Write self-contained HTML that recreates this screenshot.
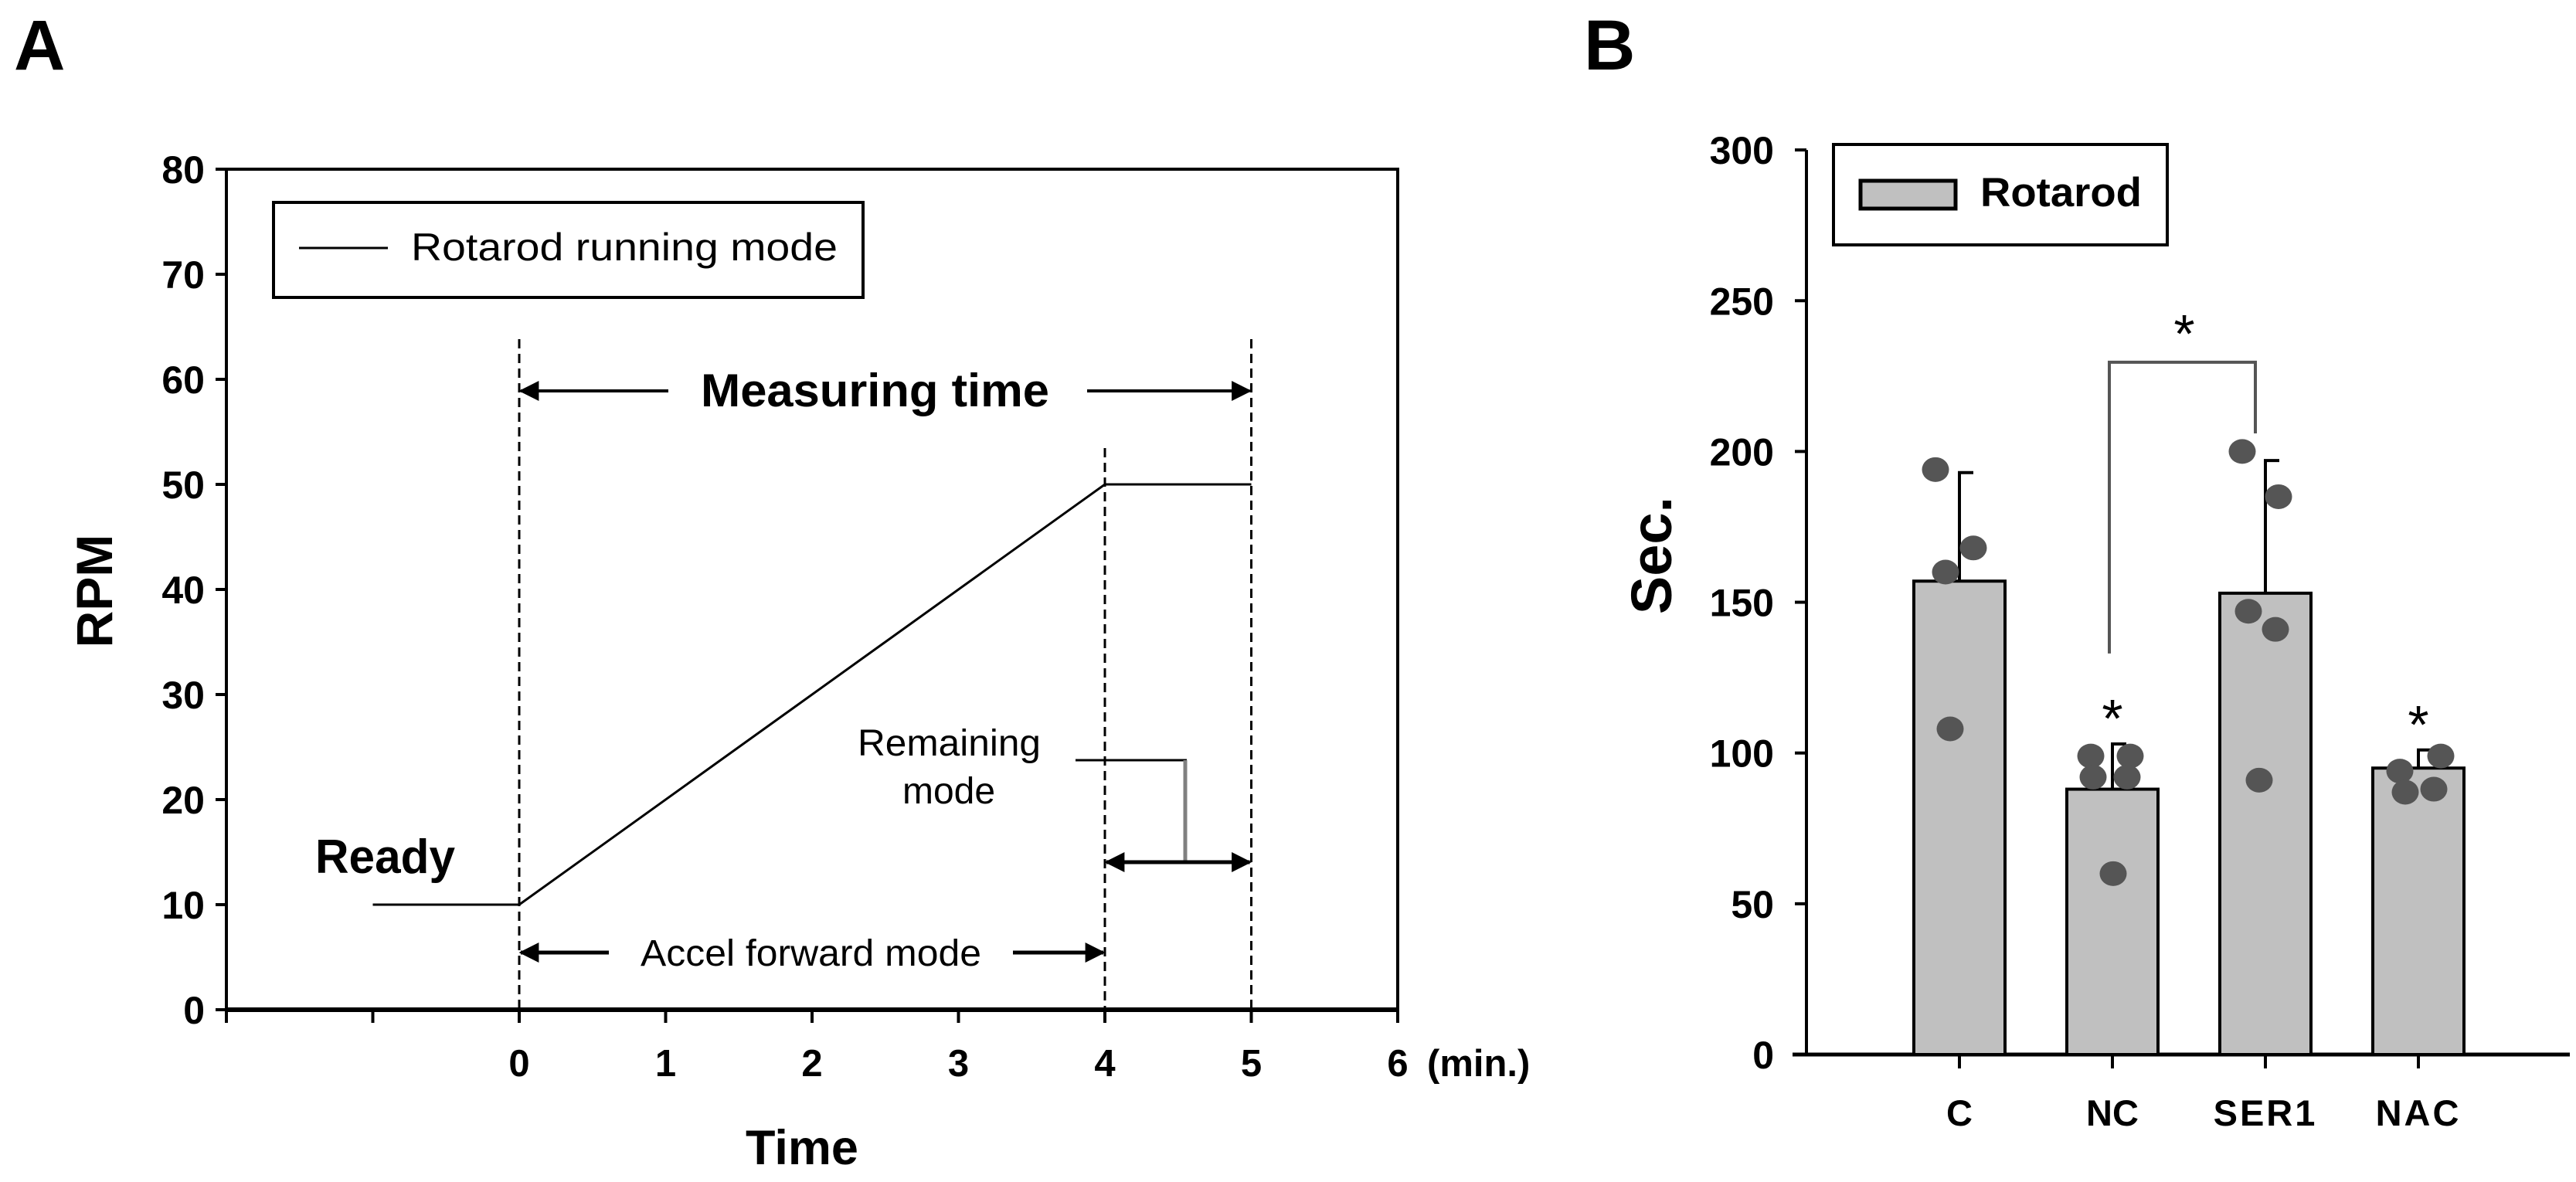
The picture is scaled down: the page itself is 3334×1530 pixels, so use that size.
<!DOCTYPE html>
<html><head><meta charset="utf-8"><style>
html,body{margin:0;padding:0;background:#fff}
svg{display:block;font-family:"Liberation Sans",Arial,sans-serif}
</style></head><body>
<svg id="fig" width="3334" height="1530" viewBox="0 0 3334 1530" xmlns="http://www.w3.org/2000/svg">
<defs>
<marker id="ah2" viewBox="0 0 10 10" refX="9" refY="5" markerWidth="26" markerHeight="26" orient="auto-start-reverse" markerUnits="userSpaceOnUse"><path d="M0,0L10,5L0,10z" fill="#000"/></marker>
</defs>
<text x="18" y="90" font-size="92" font-weight="bold">A</text>
<text x="2050" y="90" font-size="92" font-weight="bold">B</text>
<g id="gA"></g>
<g id="gB"></g>
</svg>
<script>
// Chart A data
const aTimes = [-1, 0, 4, 5];
const aRpm = [10, 10, 50, 50];
const aYTicks = [0,10,20,30,40,50,60,70,80];
const aXTicks = [0,1,2,3,4,5,6];
// Chart B data
const bCats = ["C","NC","SER1","NAC"];
const bMeans = [157, 88, 153, 95];
const bErr = [193, 103, 197, 101];
const bPoints = [[194,168,160,108],[99,92,99,92,60],[200,185,147,141,91],[94,99,87,88]];
const bOffsets = [[-31,18,-18,-12],[-28,-25,23,19,1],[-30,17,-22,13,-8],[-24,29,-17,20]];
const bYTicks = [0,50,100,150,200,250,300];
const bStars = ["", "*", "", "*"];

const NS="http://www.w3.org/2000/svg";
function mk(parent, tag, attrs, txt){const e=document.createElementNS(NS,tag);for(const k in attrs)e.setAttribute(k,attrs[k]);if(txt!==undefined)e.textContent=txt;parent.appendChild(e);return e;}

// ---- Chart A ----
const gA=document.getElementById('gA');
const ax=t=>672+189.5*t, ay=v=>1307-(v/10)*136;
let e;
e=mk(gA,'rect',{x:ax(-2),y:ay(80),width:ax(6)-ax(-2),height:ay(0)-ay(80),fill:'none',stroke:'#000','stroke-width':4});

mk(gA,'line',{x1:ax(-2),x2:ax(6),y1:ay(0),y2:ay(0),stroke:'#000','stroke-width':6});
aYTicks.forEach(v=>{
  mk(gA,'line',{x1:ax(-2)-14,x2:ax(-2),y1:ay(v),y2:ay(v),stroke:'#000','stroke-width':4});
  e=mk(gA,'text',{x:ax(-2)-28,y:ay(v)+18,'font-size':50,'font-weight':'bold','text-anchor':'end'},String(v));
  
});
[-2,-1,0,1,2,3,4,5,6].forEach(t=>mk(gA,'line',{x1:ax(t),x2:ax(t),y1:ay(0),y2:ay(0)+17,stroke:'#000','stroke-width':4}));
aXTicks.forEach(t=>{
  e=mk(gA,'text',{x:ax(t),y:1393,'font-size':49,'font-weight':'bold','text-anchor':'middle'},String(t));
  
});
e=mk(gA,'text',{x:1847,y:1393,'font-size':49,'font-weight':'bold'},'(min.)');

e=mk(gA,'text',{x:1038,y:1507,'font-size':63,'font-weight':'bold','text-anchor':'middle'},'Time');

e=mk(gA,'text',{x:0,y:0,'font-size':66,'font-weight':'bold','text-anchor':'middle',transform:'translate(145,765) rotate(-90)'},'RPM');

// dashed verticals
[[0,439],[4,580],[5,439]].forEach(([t,top])=>{
  e=mk(gA,'line',{x1:ax(t),x2:ax(t),y1:top,y2:ay(0),stroke:'#000','stroke-width':3,'stroke-dasharray':'12,7'});
  
});
// running line
e=mk(gA,'polyline',{points:aTimes.map((t,i)=>ax(t)+','+ay(aRpm[i])).join(' '),fill:'none',stroke:'#000','stroke-width':3});

// legend
e=mk(gA,'rect',{x:354,y:262,width:763,height:123,fill:'#fff',stroke:'#000','stroke-width':4});

mk(gA,'line',{x1:387,x2:502,y1:321,y2:321,stroke:'#000','stroke-width':3});
e=mk(gA,'text',{x:532,y:337,'font-size':50,textLength:552,lengthAdjust:'spacingAndGlyphs'},'Rotarod running mode');

// measuring time
mk(gA,'line',{x1:ax(0)+2,x2:865,y1:506,y2:506,stroke:'#000','stroke-width':4,'marker-start':'url(#ah2)'});
mk(gA,'line',{x1:1407,x2:ax(5)-2,y1:506,y2:506,stroke:'#000','stroke-width':4,'marker-end':'url(#ah2)'});
e=mk(gA,'text',{x:907,y:526,'font-size':60,'font-weight':'bold',textLength:451,lengthAdjust:'spacingAndGlyphs'},'Measuring time');

// Ready
e=mk(gA,'text',{x:408,y:1130,'font-size':62,'font-weight':'bold',textLength:181,lengthAdjust:'spacingAndGlyphs'},'Ready');

// Remaining mode
e=mk(gA,'text',{x:1110,y:978,'font-size':48,textLength:237,lengthAdjust:'spacingAndGlyphs'},'Remaining');

mk(gA,'text',{x:1228,y:1040,'font-size':48,'text-anchor':'middle'},'mode');
mk(gA,'line',{x1:1392,x2:1536,y1:984,y2:984,stroke:'#000','stroke-width':3});
mk(gA,'line',{x1:1534,x2:1534,y1:984,y2:1116,stroke:'#808080','stroke-width':5});
mk(gA,'line',{x1:ax(4)+2,x2:ax(5)-2,y1:1116,y2:1116,stroke:'#000','stroke-width':5,'marker-start':'url(#ah2)','marker-end':'url(#ah2)'});
// Accel forward
mk(gA,'line',{x1:ax(0)+2,x2:788,y1:1233,y2:1233,stroke:'#000','stroke-width':5,'marker-start':'url(#ah2)'});
mk(gA,'line',{x1:1311,x2:ax(4)-2,y1:1233,y2:1233,stroke:'#000','stroke-width':5,'marker-end':'url(#ah2)'});
e=mk(gA,'text',{x:829,y:1250,'font-size':48,textLength:441,lengthAdjust:'spacingAndGlyphs'},'Accel forward mode');


// ---- Chart B ----
const gB=document.getElementById('gB');
const bx=i=>2536+198*i, by=v=>1365-v*3.903, bw=118;
mk(gB,'line',{x1:2338,x2:2338,y1:by(300),y2:by(0),stroke:'#000','stroke-width':4});
mk(gB,'line',{x1:2320,x2:3326,y1:by(0),y2:by(0),stroke:'#000','stroke-width':5});
bYTicks.forEach(v=>{
  mk(gB,'line',{x1:2323,x2:2338,y1:by(v),y2:by(v),stroke:'#000','stroke-width':4});
  e=mk(gB,'text',{x:2296,y:by(v)+18,'font-size':50,'font-weight':'bold','text-anchor':'end'},String(v));
  
});
e=mk(gB,'text',{x:0,y:0,'font-size':74,'font-weight':'bold','text-anchor':'middle',transform:'translate(2163,719) rotate(-90)'},'Sec.');

bCats.forEach((c,i)=>{
  const cx=bx(i);
  e=mk(gB,'line',{x1:cx,x2:cx,y1:by(bMeans[i]),y2:by(bErr[i]),stroke:'#000','stroke-width':4});
  
  mk(gB,'line',{x1:cx-2,x2:cx+18,y1:by(bErr[i]),y2:by(bErr[i]),stroke:'#000','stroke-width':4});
  e=mk(gB,'rect',{x:cx-bw/2,y:by(bMeans[i]),width:bw,height:by(0)-by(bMeans[i]),fill:'#c0c0c0',stroke:'#000','stroke-width':4});
  
  mk(gB,'line',{x1:cx,x2:cx,y1:by(0),y2:by(0)+18,stroke:'#000','stroke-width':4});
  e=mk(gB,'text',{x:cx,y:1457,'font-size':47,'font-weight':'bold','text-anchor':'middle','letter-spacing':c.length>2?3:0},c);
  
  bPoints[i].forEach((v,j)=>{
    e=mk(gB,'ellipse',{cx:cx+bOffsets[i][j],cy:by(v),rx:17.5,ry:16,fill:'#555'});
    
  });
  if(bStars[i]){
    e=mk(gB,'text',{x:cx,y:by(bErr[i])-38+29,'font-size':70,'text-anchor':'middle'},bStars[i]);
    
  }
});
// significance bracket NC vs SER1
e=mk(gB,'polyline',{points:`${bx(1)-4},${by(133)} ${bx(1)-4},${by(229.6)} ${bx(2)-13},${by(229.6)} ${bx(2)-13},${by(206)}`,fill:'none',stroke:'#555','stroke-width':4});

e=mk(gB,'text',{x:2827,y:456,'font-size':70,'text-anchor':'middle'},'*');

// legend
e=mk(gB,'rect',{x:2373,y:187,width:432,height:130,fill:'#fff',stroke:'#000','stroke-width':4});

mk(gB,'rect',{x:2408,y:234,width:123,height:36,fill:'#c0c0c0',stroke:'#000','stroke-width':5});
e=mk(gB,'text',{x:2563,y:267,'font-size':53,'font-weight':'bold',textLength:209,lengthAdjust:'spacingAndGlyphs'},'Rotarod');

</script>
</body></html>
